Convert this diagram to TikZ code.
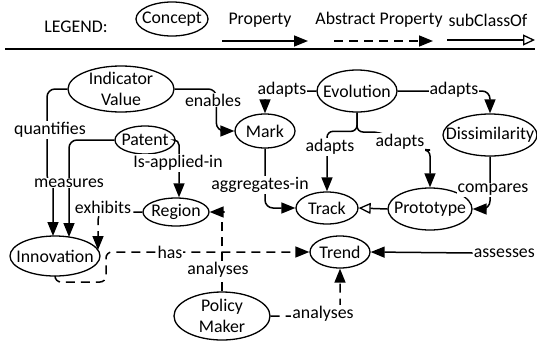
\documentclass[tikz,border=0pt]{standalone}
\usepackage{fontspec}
\setmainfont{Carlito}
\usetikzlibrary{arrows.meta,calc,shapes.geometric}
\begin{document}
\begin{tikzpicture}[x=1pt,y=-1pt,
  font=\fontsize{17.8pt}{20.5pt}\selectfont,
  concept/.style={draw, ellipse, line width=1.3pt, inner sep=0pt},
  lbl/.style={fill=white, inner sep=1pt},
  rel/.style={line width=1.5pt, -{Triangle[length=14pt,width=11pt]}},
  abst/.style={rel, dash pattern=on 9pt off 6pt},
  sub/.style={line width=1.5pt, -{Triangle[open,length=12pt,width=11pt,line width=1.3pt]}},
]
\useasboundingbox (0,0) rectangle (537,343);

% ---------- legend ----------
\node (legend) at (76,27) {LEGEND:};
\node[concept, minimum width=72pt, minimum height=34pt, label=center:Concept] (lconcept) at (172,19) {};
\node (lprop) at (260,20) {Property};
\coordinate (pA) at (222,41); \coordinate (pB) at (308,41);
\draw[rel] (pA) -- (pB);
\node (labs) at (379,20) {Abstract Property};
\coordinate (aA) at (334,41); \coordinate (aB) at (433,41);
\draw[abst] (aA) -- (aB);
\node (lsub) at (488,20) {subClassOf};
\coordinate (sA) at (447,40); \coordinate (sB) at (535,40);
\draw[sub] (sA) -- (sB);
\coordinate (sepL) at (5,49); \coordinate (sepR) at (535,49);
\draw[line width=1.2pt] (sepL) -- (sepR);

% ---------- concepts ----------
\node[concept, minimum width=106pt, minimum height=46pt, label={[align=center]center:Indicator\\Value}] (iv) at (121,89) {};
\node[concept, minimum width=60pt, minimum height=28pt, label=center:Patent] (patent) at (145,140) {};
\node[concept, minimum width=60pt, minimum height=34pt, label=center:Mark] (mark) at (265,131) {};
\node[concept, minimum width=80pt, minimum height=42pt, label=center:Evolution] (evo) at (357,91) {};
\node[concept, minimum width=94pt, minimum height=42pt, label=center:Dissimilarity] (diss) at (490,135) {};
\node[concept, minimum width=62pt, minimum height=32pt, label=center:Track] (track) at (327,208) {};
\node[concept, minimum width=84pt, minimum height=42pt, label=center:Prototype] (proto) at (430,209) {};
\node[concept, minimum width=66pt, minimum height=28pt, label=center:Region] (region) at (176,212) {};
\node[concept, minimum width=90pt, minimum height=40pt, label=center:Innovation] (innov) at (55,256) {};
\node[concept, minimum width=60pt, minimum height=32pt, label=center:Trend] (trend) at (340,252) {};
\node[concept, minimum width=96pt, minimum height=48pt, label={[align=center]center:Policy\\Maker}] (pm) at (222,316) {};
\node[anchor=east, inner sep=1pt] (assess) at (536,253) {assesses};

% ---------- connectors ----------
\draw[rel] (iv.west) [rounded corners=8pt] -| (47,183) [sharp corners] -- (53,183) -- ($(innov.center)+(-2,-20)$);
\draw[rel, rounded corners=8pt] (patent.west) -| ($(innov.center)+(14,-19)$);
\draw[rel, rounded corners=8pt] (iv.east) -| ($(mark.west)+(-18,0)$) -- (mark.west);
\draw[rel, rounded corners=5pt] (patent.east) -| ($(region.north)+(3,0)$);
\draw[abst, rounded corners=8pt] (region.west) -| ($(innov.center)+(43,-6)$);
\draw[abst, rounded corners=6pt] (innov.south) |- (106,282) |- (trend.west);
\draw[rel, rounded corners=8pt] (evo.west) -| (mark.north);
\draw[rel, rounded corners=8pt] (evo.east) -| (diss.north);
\draw[rel, rounded corners=6pt] (evo.south) |- ($(track.north)+(0,-60)$) -- (track.north);
\draw[rel, rounded corners=6pt] (evo.south) |- (378,132) -- (424,150) -| (proto.north);
\draw[rel, rounded corners=8pt] (mark.south) |- (track.west);
\draw[rel, rounded corners=8pt] (diss.south) |- (proto.east);
\draw[sub] (proto.west) -- (track.east);
\draw[abst] (pm.north) |- ($(region.east)+(15,0)$) -- (region.east);
\draw[abst, rounded corners=6pt] (pm.east) -| (trend.south);
\draw[rel] (assess.west) -- (trend.east);

% ---------- labels ----------
\node[lbl] (lquant) at (50,130) {quantifies};
\node[lbl] (lmeas) at (69,183) {measures};
\node[lbl] (lenab) at (213,100) {enables};
\node[lbl] (lapplied) at (178,163) {Is-applied-in};
\node[lbl] (lexhib) at (103,207) {exhibits};
\node[lbl] (lhas) at (170,252) {has};
\node[lbl] (lad1) at (282,90) {adapts};
\node[lbl] (lad2) at (454,90) {adapts};
\node[lbl] (lad3) at (330,147) {adapts};
\node[lbl] (lad4) at (400,142) {adapts};
\node[lbl] (lagg) at (260,185) {aggregates-in};
\node[lbl] (lcomp) at (493,190) {compares};
\node[lbl] (lan1) at (218,270) {analyses};
\node[lbl] (lan2) at (323,314) {analyses};
\end{tikzpicture}
\end{document}
